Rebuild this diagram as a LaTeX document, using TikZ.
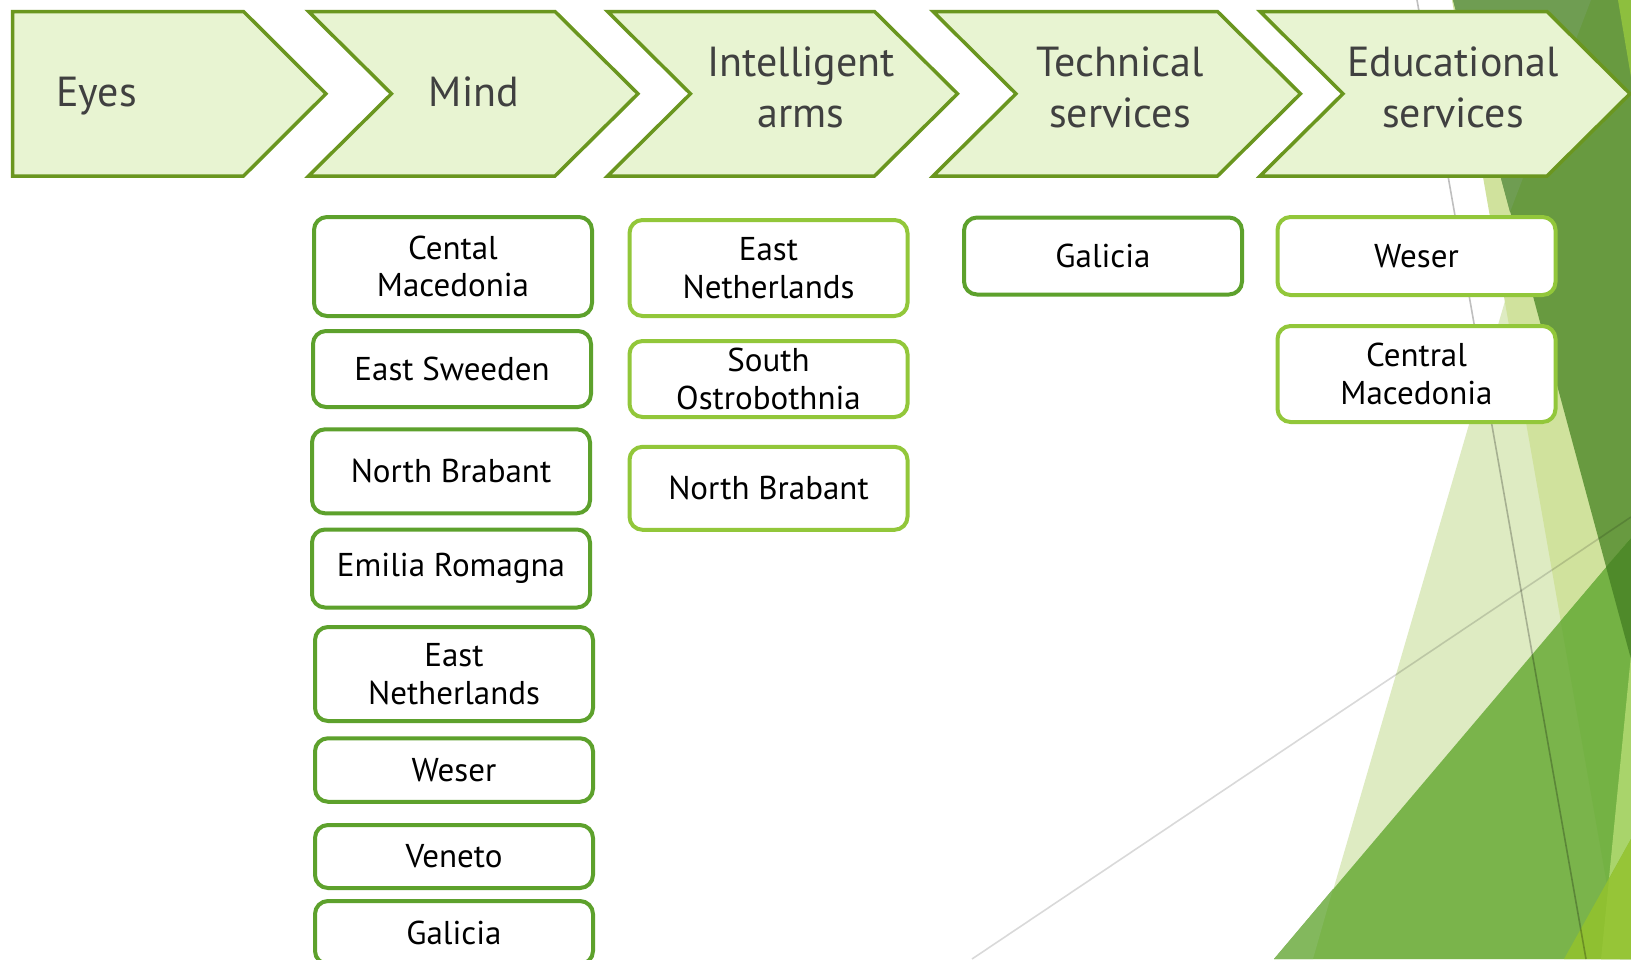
\documentclass[tikz,border=0pt]{standalone}
\usepackage{fontspec}
\setmainfont{PT Sans}
\definecolor{chevfill}{HTML}{E8F4D2}
\definecolor{chevline}{HTML}{6A961F}
\definecolor{headtext}{HTML}{404040}
\definecolor{darkbox}{HTML}{5DA12C}
\definecolor{lightbox}{HTML}{92C73A}
\definecolor{bgpale}{HTML}{DEEBC2}
\definecolor{bgsliver}{HTML}{D0E29D}
\definecolor{bgolive}{HTML}{689A40}
\definecolor{bgoliveL}{HTML}{6F9D52}
\definecolor{bgtopbright}{HTML}{8DBF3E}
\definecolor{bgmed}{HTML}{7AB44B}
\definecolor{bgmedW}{HTML}{83B85D}
\definecolor{bgmedS}{HTML}{74B244}
\definecolor{bgdark}{HTML}{4F8A2A}
\definecolor{bgstrip}{HTML}{A9D46B}
\definecolor{bglime}{HTML}{8FC031}
\definecolor{bglimeS}{HTML}{96C537}
\begin{document}
\begin{tikzpicture}[x=1pt,y=-1pt,
  chev/.style={fill=chevfill,draw=chevline,line width=3.5pt,line join=miter},
  htext/.style={text=headtext,font=\fontsize{42}{51.7}\selectfont,align=center,inner sep=0pt},
  rbox/.style={fill=white,line width=4pt,rounded corners=13pt,minimum width=278pt,align=center,inner sep=0pt,font=\fontsize{33}{37.7}\selectfont,text=black},
  dbox/.style={rbox,draw=darkbox},
  lbox/.style={rbox,draw=lightbox},
  gline/.style={line width=1.6pt,draw=black,draw opacity=0.25},
  gline2/.style={line width=1.6pt,draw=black,draw opacity=0.15}]
\useasboundingbox (0,0) rectangle (1631,959);
\clip (0,0) rectangle (1631,959);
\fill[white] (0,0) rectangle (1631,959);
% background facets
\fill[bgpale] (1313,959) -- (1505,301) -- (1631,301) -- (1631,959) -- cycle;
\fill[bgsliver] (1452,0) -- (1620,959) -- (1631,959) -- (1631,0) -- cycle;
\fill[bgolive] (1453,0) -- (1631,0) -- (1631,659) -- cycle;
\fill[bgoliveL] (1453,0) -- (1591,0) -- (1510,212) -- cycle;
\fill[bgtopbright] (1618,0) -- (1631,0) -- (1631,77) -- cycle;
\fill[bgmed] (1274,959) -- (1631,538) -- (1631,959) -- cycle;
\fill[bgmedW] (1274,959) -- (1333,889) -- (1313,959) -- cycle;
\fill[bgmedS] (1560.7,621) -- (1631,538) -- (1631,959) -- (1620,959) -- cycle;
\fill[bgdark] (1606,567) -- (1631,538) -- (1631,659) -- cycle;
\fill[bgstrip] (1631,655) -- (1601,959) -- (1631,959) -- cycle;
\fill[bglime] (1564,959) -- (1631,839) -- (1631,959) -- cycle;
\fill[bglimeS] (1609,879) -- (1631,839) -- (1631,959) -- (1601,959) -- cycle;
\draw[gline] (1417,0) -- (1586,959);
\draw[gline2] (972,959) -- (1631,517);
% chevrons
\draw[chev] (12.5,11.5) -- (243.5,11.5) -- (326,93.75) -- (243.5,176) -- (12.5,176) -- cycle;
\draw[chev] (308.5,11.5) -- (555,11.5) -- (638,93.75) -- (555,176) -- (308.5,176) -- (391.5,93.75) -- cycle;
\draw[chev] (607.5,11.5) -- (874.5,11.5) -- (957.5,93.75) -- (874.5,176) -- (607.5,176) -- (690.5,93.75) -- cycle;
\draw[chev] (933,11.5) -- (1217.5,11.5) -- (1300.5,93.75) -- (1217.5,176) -- (933,176) -- (1016,93.75) -- cycle;
\draw[chev] (1260,11.5) -- (1547,11.5) -- (1630,93.75) -- (1547,176) -- (1260,176) -- (1343,93.75) -- cycle;
\node[htext,anchor=base west] (eyes) at (56,106) {Eyes};
\node[htext,anchor=base] (mind) at (474,106) {Mind};
\node[htext,anchor=base] (arms) at (801,127.7) {Intelligent\\arms};
\node[htext,anchor=base] (tech) at (1120,127.7) {Technical\\services};
\node[htext,anchor=base] (edu) at (1453,127.7) {Educational\\services};
% Mind column
\node[dbox,minimum height=99pt] (m1) at (453,266.5) {Cental\\Macedonia};
\node[dbox,minimum height=76pt] (m2) at (452,369) {East Sweeden};
\node[dbox,minimum height=84pt] (m3) at (451,471.3) {North Brabant};
\node[dbox,minimum height=78pt] (m4) at (451,568.5) {Emilia Romagna};
\node[dbox,minimum height=94pt] (m5) at (454,674) {East\\Netherlands};
\node[dbox,minimum height=63.5pt] (m6) at (454,770) {Weser};
\node[dbox,minimum height=63pt] (m7) at (454,856.5) {Veneto};
\node[dbox,minimum height=63pt] (m8) at (454,932.5) {Galicia};
% Intelligent arms column
\node[lbox,minimum height=96pt] (a1) at (768.5,268) {East\\Netherlands};
\node[lbox,minimum height=76pt] (a2) at (768.5,379) {South\\Ostrobothnia};
\node[lbox,minimum height=83pt] (a3) at (768.5,488.3) {North Brabant};
% Technical services
\node[dbox,minimum height=77pt] (t1) at (1103,256) {Galicia};
% Educational services
\node[lbox,minimum height=78pt] (e1) at (1416.5,256) {Weser};
\node[lbox,minimum height=96pt] (e2) at (1416.5,374) {Central\\Macedonia};
\end{tikzpicture}
\end{document}
